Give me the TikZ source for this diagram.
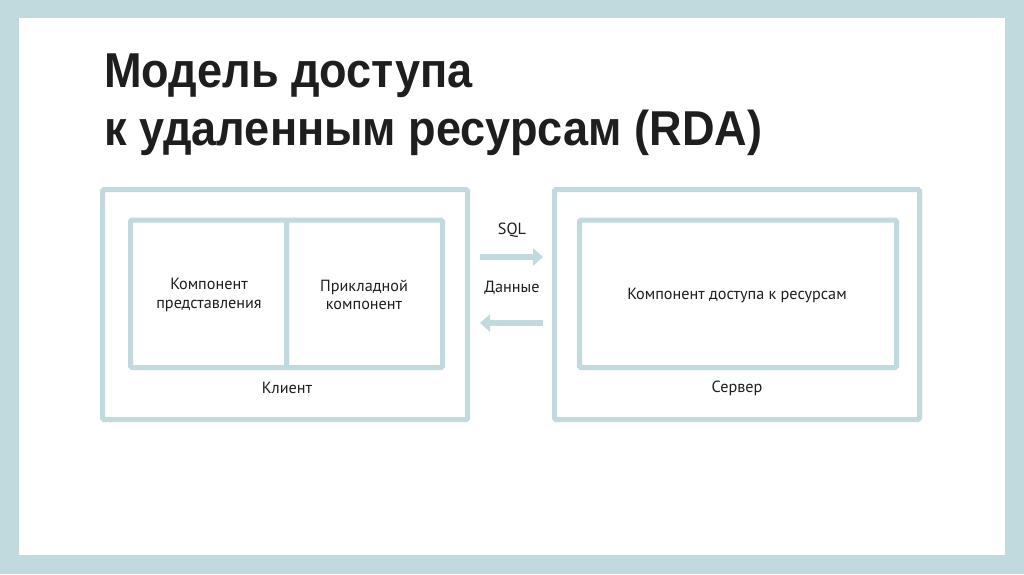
\documentclass[tikz,border=0pt]{standalone}
\usepackage{fontspec}
\setmainfont{PT Sans}
\newfontfamily\titlefont[FakeStretch=0.92]{Liberation Sans}
\usetikzlibrary{arrows.meta}
\definecolor{framec}{HTML}{C0DADD}
\definecolor{inkc}{HTML}{1E1E1E}
\tikzset{
  boxc/.style={draw=framec, line width=5pt, rounded corners=1.5pt, inner sep=0pt},
  lbl/.style={text=inkc, font=\fontsize{16.2}{18.5}\selectfont, align=center, inner sep=0pt},
  ttl/.style={text=inkc, font=\titlefont\bfseries\fontsize{49}{58}\selectfont, inner sep=0pt, anchor=base west},
  flow/.style={draw=framec, line width=6pt, -{Triangle[length=10pt,width=17pt]}}
}
\begin{document}
\begin{tikzpicture}[x=1pt,y=-1pt]
\fill[framec] (0,0) rectangle (1024,574);
\fill[white] (19,18) rectangle (1005,555);
\useasboundingbox (0,0) rectangle (1024,574);

\node[ttl] (t1) at (104,87) {Модель доступа};
\node[ttl] (t2) at (104,145) {к удаленным ресурсам (RDA)};

% client
\node[boxc, minimum width=365pt, minimum height=230pt] (client) at (285,304.5) {};
\node[boxc, minimum width=156pt, minimum height=147.5pt] (pres) at (208.5,293.75) {};
\node[boxc, minimum width=156pt, minimum height=147.5pt] (app) at (364.5,293.75) {};
\node[lbl] (presl) at (209,295) {Компонент\\представления};
\node[lbl] (appl) at (364,295) {Прикладной\\компонент};
\node[lbl] (clientl) at (287,388) {Клиент};

% server
\node[boxc, minimum width=365pt, minimum height=230pt] (server) at (737,304.5) {};
\node[boxc, minimum width=317pt, minimum height=147.5pt] (res) at (738,293.75) {};
\node[lbl] (resl) at (737,295) {Компонент доступа к ресурсам};
\node[lbl] (serverl) at (737,388) {Сервер};

% arrows
\node[lbl] (sql) at (512,230) {SQL};
\node[lbl] (data) at (512,288) {Данные};
\coordinate (r1) at (480,257);
\coordinate (r2) at (543,257);
\coordinate (l1) at (543,323);
\coordinate (l2) at (480,323);
\draw[flow] (r1) -- (r2);
\draw[flow] (l1) -- (l2);
\end{tikzpicture}
\end{document}
